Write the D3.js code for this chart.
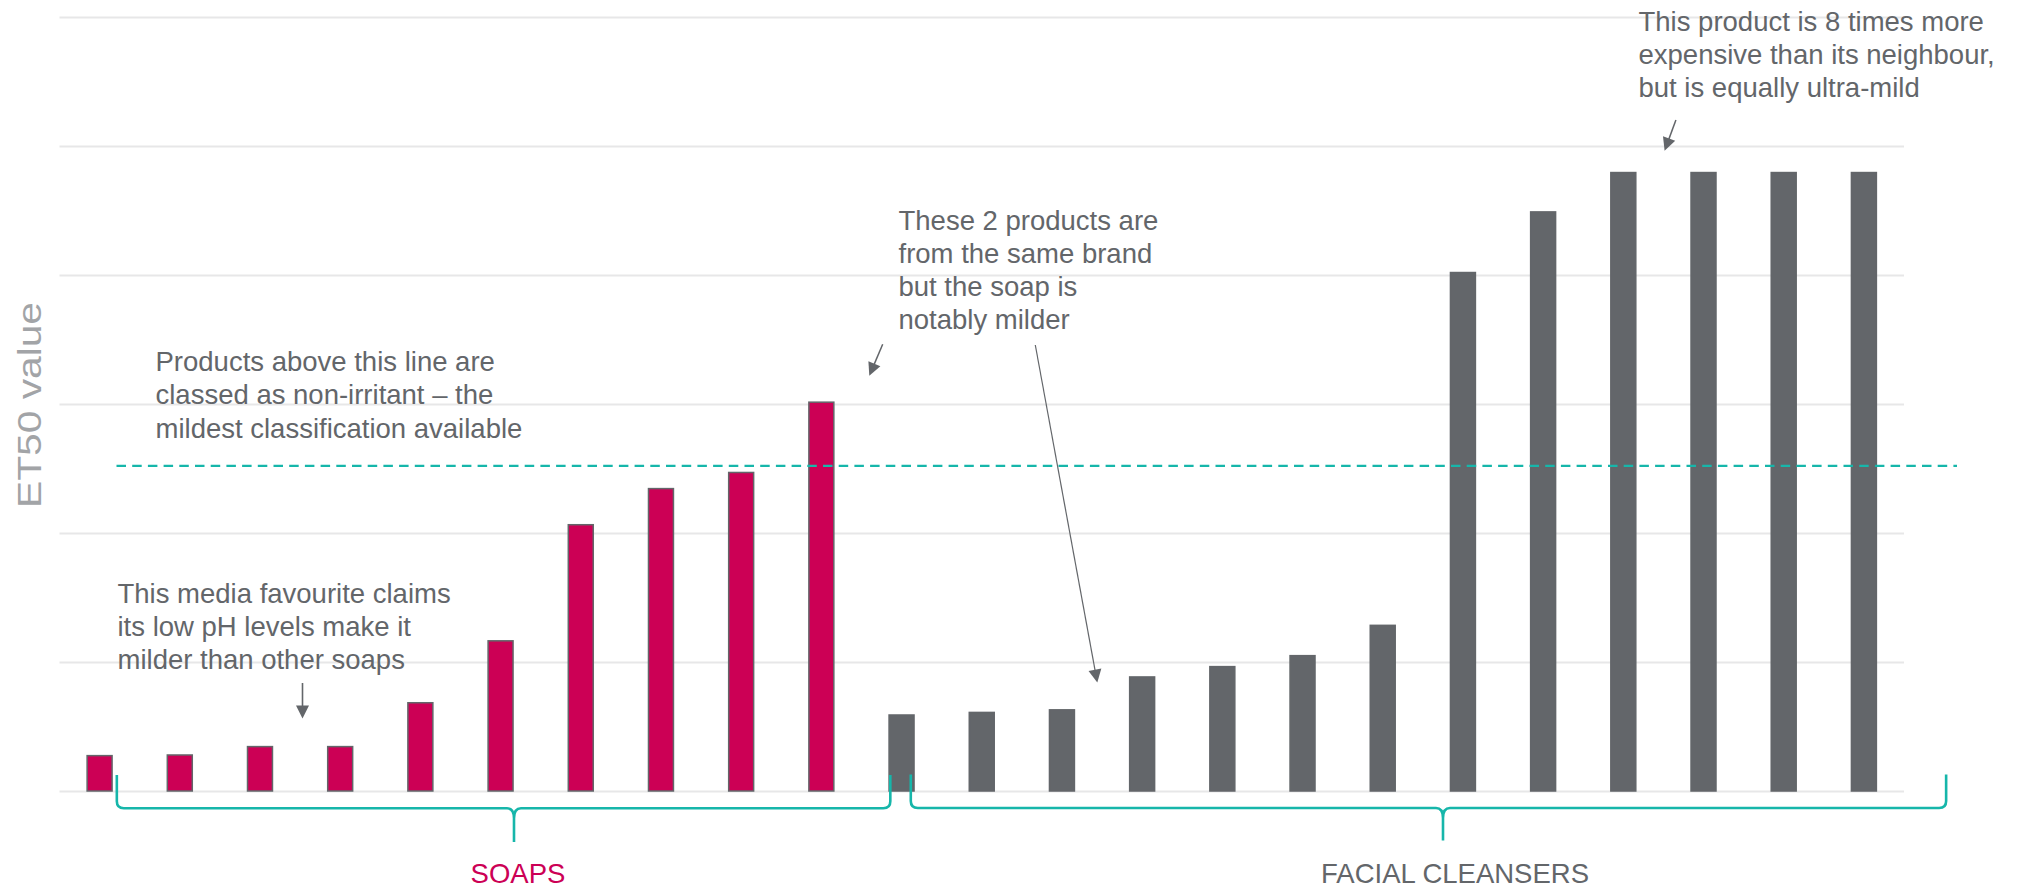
<!DOCTYPE html>
<html>
<head>
<meta charset="utf-8">
<script src="https://cdn.jsdelivr.net/npm/d3@7/dist/d3.min.js"></script>
<style>
  html, body { margin: 0; padding: 0; background: #ffffff; }
  svg { display: block; }
</style>
</head>
<body>
<svg id="chart" width="2022" height="890"></svg>
<script>
// ---------------- DATA ----------------
const soapProducts = ["Soap 1","Soap 2","Soap 3","Soap 4","Soap 5","Soap 6","Soap 7","Soap 8","Soap 9","Soap 10"];
const soapValues = [2.8, 2.85, 3.5, 3.5, 6.9, 11.7, 20.7, 23.5, 24.75, 30.2];
const cleanserProducts = ["Cleanser 1","Cleanser 2","Cleanser 3","Cleanser 4","Cleanser 5","Cleanser 6","Cleanser 7",
                          "Cleanser 8","Cleanser 9","Cleanser 10","Cleanser 11","Cleanser 12","Cleanser 13"];
const cleanserValues = [5.95, 6.15, 6.35, 8.9, 9.7, 10.55, 12.9, 40.25, 44.95, 48, 48, 48, 48];
const yTicks = [0, 10, 20, 30, 40, 50, 60];
const threshold = 25.2;
const groupLabels = ["SOAPS", "FACIAL CLEANSERS"];
const yLabel = "ET50 value";
const noteThreshold = ["Products above this line are", "classed as non-irritant \u2013 the", "mildest classification available"];
const noteMedia = ["This media favourite claims", "its low pH levels make it", "milder than other soaps"];
const noteBrand = ["These 2 products are", "from the same brand", "but the soap is", "notably milder"];
const notePrice = ["This product is 8 times more", "expensive than its neighbour,", "but is equally ultra-mild"];

// ---------------- SETUP ----------------
const PINK = "#cc0055", GREY = "#63666a", TEAL = "#16b6aa", GRID = "#e7e7e8";
const FONT = "'Liberation Sans', Arial, Helvetica, sans-serif";

const data = soapProducts.map((p, i) => ({ name: p, value: soapValues[i], group: 0 }))
  .concat(cleanserProducts.map((p, i) => ({ name: p, value: cleanserValues[i], group: 1 })));

const svg = d3.select("#chart");

const x = d3.scaleBand()
  .domain(data.map(d => d.name))
  .range([59.5, 1904])
  .paddingInner(0.67)
  .paddingOuter(0.335);

const y = d3.scaleLinear().domain([0, 60]).range([791, 17]);

// gridlines
const gridAxis = d3.axisLeft(y).tickValues(yTicks).tickSize(-(1904 - 59.5)).tickFormat("");
const g = svg.append("g").attr("transform", "translate(59.5,0)").call(gridAxis);
g.select(".domain").remove();
g.selectAll(".tick line").attr("stroke", GRID).attr("stroke-width", 1.8);

// bars
svg.append("g").selectAll("rect").data(data).join("rect")
  .attr("x", d => x(d.name) + 0.75)
  .attr("width", x.bandwidth() - 1.5)
  .attr("y", d => y(d.value) + 0.75)
  .attr("height", d => y(0) - y(d.value) - 0.75)
  .attr("fill", d => d.group === 0 ? PINK : GREY)
  .attr("stroke", GREY)
  .attr("stroke-width", 1.5);

// threshold dashed line
svg.append("line")
  .attr("x1", 116.5).attr("x2", 1957)
  .attr("y1", y(threshold)).attr("y2", y(threshold))
  .attr("stroke", TEAL).attr("stroke-width", 2.2)
  .attr("stroke-dasharray", "9.5 6.2");

// y-axis label
svg.append("text")
  .attr("transform", "translate(41,405) rotate(-90)")
  .attr("text-anchor", "middle")
  .attr("font-family", FONT)
  .attr("font-size", 34)
  .attr("fill", "#a2a4a7")
  .attr("textLength", 206)
  .attr("lengthAdjust", "spacingAndGlyphs")
  .text(yLabel);

// braces
function brace(left, right, tip, top, mid, bottom) {
  const r = 7;
  return `M${left},${top} V${mid - r} Q${left},${mid} ${left + r},${mid} H${tip - r} Q${tip},${mid} ${tip},${mid + r + 3} V${bottom}` +
         ` M${tip},${mid + r + 3} Q${tip},${mid} ${tip + r},${mid} H${right - r} Q${right},${mid} ${right},${mid - r} V${top}`;
}
const bw = x.bandwidth();
const soapLeft = x(soapProducts[0]) + bw + 4;
const soapRight = x(cleanserProducts[0]) + 2;
const clLeft = x(cleanserProducts[0]) + bw - 4;
const clRight = x(cleanserProducts[cleanserProducts.length - 1]) + bw + 69;
const soapTip = 514, clTip = 1443;
svg.append("path").attr("d", brace(soapLeft, soapRight, soapTip, 775, 808.3, 842))
  .attr("fill", "none").attr("stroke", TEAL).attr("stroke-width", 2.6);
svg.append("path").attr("d", brace(clLeft, clRight, clTip, 774.5, 808, 840.5))
  .attr("fill", "none").attr("stroke", TEAL).attr("stroke-width", 2.6);

// group labels
svg.append("text").attr("x", soapTip + 4).attr("y", 882.5).attr("text-anchor", "middle")
  .attr("font-family", FONT).attr("font-size", 27.5).attr("fill", PINK).text(groupLabels[0]);
svg.append("text").attr("x", clTip + 12).attr("y", 883).attr("text-anchor", "middle")
  .attr("font-family", FONT).attr("font-size", 27.5).attr("fill", GREY).text(groupLabels[1]);

// annotations
function note(lines, x0, y0) {
  const t = svg.append("text").attr("font-family", FONT).attr("font-size", 27.5).attr("fill", GREY);
  lines.forEach((l, i) => t.append("tspan").attr("x", x0).attr("y", y0 + i * 33.3).text(l));
}
note(noteThreshold, 155.5, 371);
note(noteMedia, 117.5, 602.5);
note(noteBrand, 898.5, 229.5);
note(notePrice, 1638.5, 30.5);

// arrows
function arrow(x1, y1, x2, y2, w) {
  const dx = x2 - x1, dy = y2 - y1, len = Math.hypot(dx, dy);
  const ux = dx / len, uy = dy / len;
  const hl = 13, hw = 6.5;
  const bx = x2 - ux * hl, by = y2 - uy * hl;
  svg.append("line").attr("x1", x1).attr("y1", y1).attr("x2", bx + ux * 2).attr("y2", by + uy * 2)
    .attr("stroke", GREY).attr("stroke-width", w);
  svg.append("path")
    .attr("d", `M${x2},${y2} L${bx - uy * hw},${by + ux * hw} L${bx + uy * hw},${by - ux * hw} Z`)
    .attr("fill", GREY);
}
arrow(302.5, 683, 302.5, 718.5, 1.6);
arrow(882.7, 344.3, 869.3, 375.7, 1.5);
arrow(1035.3, 345, 1097.3, 682.5, 1.2);
arrow(1675.9, 120, 1664.6, 150.7, 1.5);
</script>
</body>
</html>
